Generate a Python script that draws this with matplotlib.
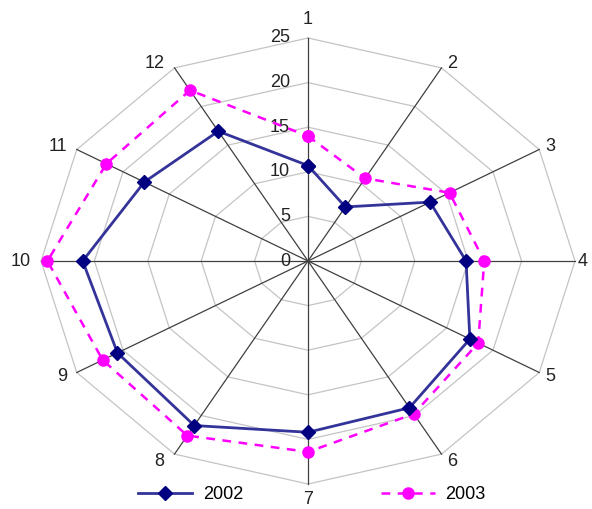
import numpy as np
import matplotlib.pyplot as plt

plt.rcParams['font.family'] = ['Liberation Sans', 'DejaVu Sans']

categories = ['1', '2', '3', '4', '5', '6', '7', '8', '9', '10', '11', '12']
v2002 = [10.7, 7.0, 13.2, 14.8, 17.5, 19.0, 19.2, 21.3, 20.6, 21.1, 17.7, 16.8]
v2003 = [14.0, 10.7, 15.3, 16.5, 18.4, 19.8, 21.4, 22.6, 22.2, 24.4, 21.8, 22.1]
rings = [5, 10, 15, 20, 25]
rmax = 25

n = len(categories)
theta = np.arange(n) * 2 * np.pi / n

def to_xy(vals):
    vals = np.asarray(vals, dtype=float)
    return vals * np.sin(theta), vals * np.cos(theta)

fig = plt.figure(figsize=(5.92, 5.09), dpi=100)
ax = fig.add_axes([0, 0, 1, 1])
# horizontal scale 267px per 25, vertical 223px per 25 -> stretched radar
sx = 267 / 25
sy = 223 / 25
ax.set_xlim(-308 / sx, (592 - 308) / sx)
ax.set_ylim(-(509 - 261) / sy, 261 / sy)
ax.axis('off')

# rings
for r in rings:
    x, y = to_xy([r] * n)
    ax.plot(np.append(x, x[0]), np.append(y, y[0]), color='#c4c4c4', lw=0.9, zorder=1)
# spokes
for t in theta:
    ax.plot([0, rmax * np.sin(t)], [0, rmax * np.cos(t)], color='#404040', lw=0.9, zorder=2)

# radial tick labels
for r in [0] + rings:
    ax.text(-18 / sx, r, str(r), ha='right', va='center', fontsize=13, color='#222222')

# category labels, just outside each spoke end
for i, c in enumerate(categories):
    t = theta[i]
    s, co = np.sin(t), np.cos(t)
    k = 5 if co > 0 else 8
    if abs(s) < 1e-6:
        ha, dx, dy = 'center', 0, (19 if co > 0 else -15)
    elif s > 0:
        ha, dx, dy = 'left', 6, k * co
    else:
        ha, dx, dy = 'right', -10, k * co
    if i == 3:
        dx = 3
    ax.annotate(c, (rmax * s, rmax * co), xytext=(dx, dy), textcoords='offset pixels',
                ha=ha, va='center', fontsize=13, color='#222222')

x1, y1 = to_xy(v2002)
ax.plot(np.append(x1, x1[0]), np.append(y1, y1[0]), color='#333399', lw=2.0,
        marker='D', markersize=7, markerfacecolor='#000080', markeredgecolor='#000080',
        label='2002', zorder=4)
x2, y2 = to_xy(v2003)
ax.plot(np.append(x2, x2[0]), np.append(y2, y2[0]), color='#ff00ff', lw=1.8,
        linestyle=(0, (3.5, 3)), marker='o', markersize=8,
        markerfacecolor='#ff00ff', markeredgecolor='#ff00ff', label='2003', zorder=3)

fig.legend(loc='lower center', bbox_to_anchor=(0.527, -0.02), ncol=2, frameon=False,
           fontsize=13, handlelength=3.0, columnspacing=7.6, handletextpad=0.6)

fig.savefig('out.png', dpi=100)
